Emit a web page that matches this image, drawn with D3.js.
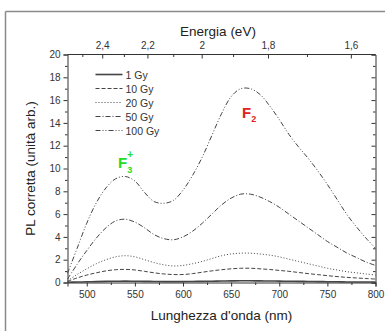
<!DOCTYPE html>
<html>
<head>
<meta charset="utf-8">
<script src="https://cdn.jsdelivr.net/npm/d3@7"></script>
<style>
  body { margin: 0; background: #fff; }
  svg { font-family: "Liberation Sans", Arial, sans-serif; }
  .axis path, .axis line { stroke: #333; }
  .axis text { fill: #333; font-size: 10px; }
</style>
</head>
<body>
<svg id="chart" width="385" height="331"></svg>
<script>
// wavelengths (nm)
var wavelengths = [480, 490, 500, 510, 520, 530, 540, 550, 560, 570, 580, 590, 600, 610, 620, 630, 640,
    650, 660, 670, 680, 690, 700, 710, 720, 730, 740, 750, 760, 770, 780, 790, 800];

var dose1 = [0.02, 0.04, 0.06, 0.08, 0.1, 0.11, 0.12, 0.11, 0.1, 0.09, 0.08, 0.08, 0.08, 0.09, 0.1, 0.11, 0.13,
    0.14, 0.15, 0.15, 0.14, 0.13, 0.12, 0.11, 0.1, 0.09, 0.08, 0.07, 0.06, 0.05, 0.05, 0.04, 0.04];
var dose10 = [0.1, 0.4, 0.65, 0.85, 1.02, 1.12, 1.15, 1.1, 0.98, 0.85, 0.75, 0.7, 0.7, 0.78, 0.9, 1.02, 1.12,
    1.2, 1.25, 1.25, 1.2, 1.14, 1.06, 0.98, 0.88, 0.78, 0.69, 0.6, 0.52, 0.45, 0.4, 0.35, 0.3];
var dose20 = [0.15, 0.7, 1.2, 1.65, 2.0, 2.25, 2.35, 2.25, 2.0, 1.75, 1.55, 1.45, 1.5, 1.65, 1.85, 2.1, 2.35,
    2.5, 2.57, 2.57, 2.5, 2.4, 2.25, 2.05, 1.85, 1.65, 1.45, 1.25, 1.1, 0.95, 0.85, 0.75, 0.65];
var dose50 = [0.3, 1.6, 2.8, 3.9, 4.8, 5.4, 5.55, 5.3, 4.8, 4.2, 3.85, 3.75, 4.0, 4.5, 5.2, 6.0, 6.8,
    7.4, 7.75, 7.75, 7.5, 7.1, 6.6, 6.0, 5.4, 4.8, 4.2, 3.6, 3.1, 2.6, 2.2, 1.8, 1.5];
var dose100 = [0.8, 3.0, 5.2, 7.0, 8.3, 9.1, 9.3, 8.9, 7.9, 7.1, 6.95, 7.2, 8.1, 9.4, 11.0, 12.9, 14.8,
    16.3, 17.0, 17.0, 16.5, 15.5, 14.3, 13.0, 11.9, 10.9, 9.8, 8.6, 7.3, 6.0, 4.9, 3.9, 3.0];

var seriesNames = ["1 Gy", "10 Gy", "20 Gy", "50 Gy", "100 Gy"];
var seriesValues = [dose1, dose10, dose20, dose50, dose100];
var seriesDash = ["none", "4,2", "1,2", "5,2,1,2", "5,2,1,2,1,2"];
var seriesWidth = [1.6, 1, 1, 1, 1];

var xTicks = [500, 550, 600, 650, 700, 750, 800];
var yTicks = [0, 2, 4, 6, 8, 10, 12, 14, 16, 18, 20];
var energyTicks = [2.4, 2.2, 2.0, 1.8, 1.6];
var energyMinor = [2.5, 2.3, 2.1, 1.9, 1.7];

var chart = d3.select("#chart"),
    margin = { top: 54.5, right: 9.5, bottom: 48.5, left: 67.5 },
    width = +chart.attr("width") - margin.left - margin.right,
    height = +chart.attr("height") - margin.top - margin.bottom;

// outer frame (left and top edges visible)
chart.append("line").attr("x1", 5.5).attr("x2", 5.5).attr("y1", 11.5).attr("y2", 331)
    .style("stroke", "#8a8a8a").style("stroke-width", 1.5);
chart.append("line").attr("x1", 5.5).attr("x2", 385).attr("y1", 11.5).attr("y2", 11.5)
    .style("stroke", "#8a8a8a").style("stroke-width", 1.5);

var x = d3.scaleLinear().domain([480, 800]).range([0, width]);
var y = d3.scaleLinear().domain([0, 20]).range([height, 0]);

var g = chart.append("g")
    .attr("transform", "translate(" + margin.left + "," + margin.top + ")");

// minor ticks
g.append("g").attr("class", "axis")
    .attr("transform", "translate(0," + height + ")")
    .call(d3.axisBottom(x).tickValues(d3.range(475, 801, 50).filter(d => d > 480)).tickSize(2.5).tickFormat(""))
    .select(".domain").remove();
g.append("g").attr("class", "axis")
    .call(d3.axisLeft(y).tickValues(d3.range(1, 20, 2)).tickSize(2.5).tickFormat(""))
    .select(".domain").remove();
g.append("g").attr("class", "axis")
    .attr("transform", "translate(" + width + ",0)")
    .call(d3.axisRight(y).tickValues(d3.range(1, 20, 2)).tickSize(-2.5).tickFormat(""))
    .select(".domain").remove();

// main axes
g.append("g").attr("class", "axis")
    .attr("transform", "translate(0," + height + ")")
    .call(d3.axisBottom(x).tickValues(xTicks).tickSize(4).tickPadding(4));
g.append("g").attr("class", "axis")
    .call(d3.axisLeft(y).tickValues(yTicks).tickSize(4).tickPadding(3));
g.append("g").attr("class", "axis")
    .attr("transform", "translate(" + width + ",0)")
    .call(d3.axisRight(y).tickValues(yTicks).tickSize(-4).tickFormat(""));

// top energy axis (eV = 1239.84 / nm)
var ev = function(e) { return x(1239.84 / e); };
var topAxis = g.append("g").attr("class", "axis");
topAxis.append("line").attr("x1", 0).attr("x2", width).attr("y1", 0).attr("y2", 0).style("stroke", "#333");
topAxis.selectAll(".maj").data(energyTicks).enter().append("line")
    .attr("x1", ev).attr("x2", ev).attr("y1", 0).attr("y2", 4).style("stroke", "#333");
topAxis.selectAll(".min").data(energyMinor).enter().append("line")
    .attr("x1", ev).attr("x2", ev).attr("y1", 0).attr("y2", 2.5).style("stroke", "#333");
topAxis.selectAll("text").data(energyTicks).enter().append("text")
    .attr("x", ev).attr("y", -6)
    .attr("text-anchor", "middle")
    .text(d => d3.format(".1f")(d).replace(".0", "").replace(".", ","));

// curves
var line = d3.line()
    .x((d, i) => x(wavelengths[i]))
    .y(d => y(d))
    .curve(d3.curveCatmullRom);

seriesValues.forEach(function(vals, k) {
    g.append("path")
        .datum(vals)
        .attr("d", line)
        .style("fill", "none")
        .style("stroke", "#444")
        .style("stroke-width", seriesWidth[k])
        .style("stroke-dasharray", seriesDash[k]);
});

// legend
var legend = g.append("g").attr("transform", "translate(28,20)");
seriesNames.forEach(function(name, k) {
    legend.append("line")
        .attr("x1", 0).attr("x2", 27).attr("y1", k * 14).attr("y2", k * 14)
        .style("stroke", "#444")
        .style("stroke-width", seriesWidth[k])
        .style("stroke-dasharray", seriesDash[k]);
    legend.append("text")
        .attr("x", 30).attr("y", k * 14 + 4)
        .style("font-size", "10.5px").style("fill", "#333")
        .text(name);
});

// band labels
var f3 = chart.append("text").attr("x", 118).attr("y", 168)
    .style("fill", "#22dd22").style("font-weight", "bold").style("font-size", "15px");
f3.append("tspan").text("F");
f3.append("tspan").attr("dy", 5).style("font-size", "9px").text("3");
f3.append("tspan").attr("dx", -5).attr("dy", -15).style("font-size", "10px").text("+");

var f2 = chart.append("text").attr("x", 242).attr("y", 118)
    .style("fill", "#e32020").style("font-weight", "bold").style("font-size", "15px");
f2.append("tspan").text("F");
f2.append("tspan").attr("dy", 4).style("font-size", "9px").text("2");

// axis titles
chart.append("text").attr("x", margin.left + width / 2).attr("y", 320)
    .attr("text-anchor", "middle").style("font-size", "13.5px").style("fill", "#222")
    .text("Lunghezza d'onda (nm)");
chart.append("text").attr("x", 218).attr("y", 36)
    .attr("text-anchor", "middle").style("font-size", "13.5px").style("fill", "#222")
    .text("Energia (eV)");
chart.append("text")
    .attr("transform", "translate(35," + (margin.top + height / 2) + ") rotate(-90)")
    .attr("text-anchor", "middle").style("font-size", "13.5px").style("fill", "#222")
    .text("PL corretta (unità arb.)");
</script>
</body>
</html>
